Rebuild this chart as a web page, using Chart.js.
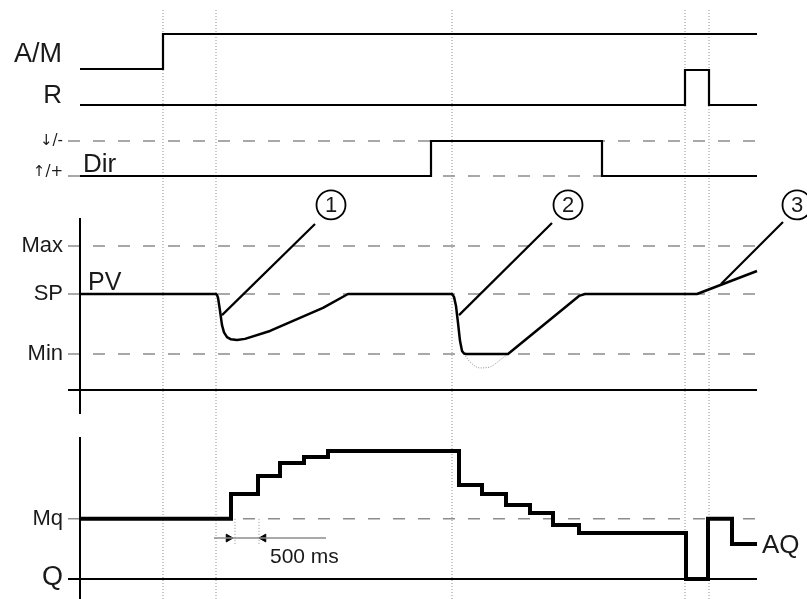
<!DOCTYPE html>
<html>
<head>
<meta charset="utf-8">
<script src="https://cdn.jsdelivr.net/npm/chart.js@4"></script>
<style>
  html,body{margin:0;padding:0;background:#fff;}
  #wrap{width:807px;height:599px;}
</style>
</head>
<body>
<div id="wrap"><canvas id="chart" width="807" height="599"></canvas></div>
<script>
// -------- DATA --------
// time runs in arbitrary units, 0 = start of the traces
const tStart = -12;      // where the reference lines begin (left of the axes)
const tEnd = 677;
const markT = [83, 136, 372, 605, 629];   // dotted event markers

// digital inputs : value v[i] from t[i] on
const amT = [0, 83, 677];
const amV = [0, 1, 1];
const rT = [0, 605, 629, 677];
const rV = [0, 1, 0, 0];
const dirT = [0, 351, 522, 677];
const dirV = [0, 1, 0, 0];
const dirNames = ["\u2191/+", "\u2193/-"];

// process value
const pvNames = ["Max", "SP", "Min"];
const pvLevels = [60, 40, 15];
const pvT = [0, 136, 137, 138, 140, 142, 144, 147, 151, 157, 165, 190, 243, 268,
             372, 374, 376, 378, 380, 382, 384, 386, 428, 499, 505, 617, 677];
const pvV = [40, 40, 39.6, 38.5, 33, 27, 24, 22, 21.1, 20.8, 21.3, 24.6, 34.2, 40,
             40, 38.8, 35, 28, 20.5, 16.3, 15.2, 15, 15, 39.2, 40, 40, 49.6];
// unlimited PV (dotted, below Min)
const pvFreeT = [384, 390, 400, 410, 420, 428];
const pvFreeV = [15, 11.7, 9.2, 9.6, 12.5, 15];

// callouts 1..3 : leader start / end, circle
const noteNames = ["1", "2", "3"];
const noteFromT = [142, 379, 641];
const noteFromV = [31.2, 31.2, 44.2];
const noteToT = [235, 472, 703];
const noteToV = [69.2, 69.6, 70];
const noteT = [251, 488, 717];
const noteV = [77.1, 77.1, 77.1];

// analog output : value v[i] from t[i] on
const mq = 47;
const aqT = [0, 151, 178, 200, 224, 248, 379, 402, 426, 450, 473, 499, 606, 628, 652, 677];
const aqV = [47, 66.4, 80.5, 90.6, 95.3, 100, 73.4, 66.4, 57.8, 51.6, 42.2, 35.9, 0, 47, 27.3, 27.3];

// 500 ms sample time marker
const cycleT = [155, 179];
const cycleLineT = [134, 246];
const cycleV = 32;

// -------- LAYOUT --------
const H = 599;
// linear y scale putting value lo at pixel yLo and hi at pixel yHi
function rowScale(lo, yLo, hi, yHi){
  const k = (yLo - yHi) / (hi - lo);
  const min = lo - (H - yLo) / k;
  return {type:"linear", display:false, min:min, max:min + H / k};
}

const pts = (ts, vs) => ts.map((t, i) => ({x:t, y:vs[i]}));

function trace(ts, vs, axis, extra){
  return Object.assign({
    data: pts(ts, vs), yAxisID: axis,
    borderColor: "#000", borderWidth: 2.2,
    pointRadius: 0, fill: false, clip: false, order: 1
  }, extra || {});
}
const dashed = {borderColor: "#8c8c8c", borderWidth: 1.5, borderDash: [12, 13], order: 5};
const dotted = {borderColor: "#8f8f8f", borderWidth: 1, borderDash: [1, 2], order: 6};

const datasets = [];

// event markers
markT.forEach(t => datasets.push(trace([t, t], [0, 1], "yFrame", dotted)));

// A/M, R
datasets.push(trace(amT, amV, "yAM", {stepped: "before"}));
datasets.push(trace(rT, rV, "yR", {stepped: "before"}));

// Dir
[0, 1].forEach(v => datasets.push(trace([tStart, tEnd], [v, v], "yDir", dashed)));
datasets.push(trace(dirT, dirV, "yDir", {stepped: "before"}));

// PV
pvLevels.forEach(v => datasets.push(trace([tStart, tEnd], [v, v], "yPV", dashed)));
datasets.push(trace([tStart, tEnd], [0, 0], "yPV", {borderWidth: 2}));
datasets.push(trace([0, 0], [71.7, -10], "yPV", {borderWidth: 2}));
datasets.push(trace(pvT, pvV, "yPV", {borderWidth: 2.5, borderJoinStyle: "round"}));
datasets.push(trace(pvFreeT, pvFreeV, "yPV", {borderColor: "#8c8c8c", borderWidth: 1, borderDash: [1, 1.5], cubicInterpolationMode: "monotone"}));

// callouts
noteT.forEach((t, i) => {
  datasets.push(trace([noteFromT[i], noteToT[i]], [noteFromV[i], noteToV[i]], "yPV", {borderWidth: 2.2}));
});
datasets.push(trace(noteT, noteV, "yPV", {
  showLine: false, pointRadius: 14.5, pointBorderWidth: 1.8,
  pointBorderColor: "#000", pointBackgroundColor: "#fff", order: 0
}));

// AQ
datasets.push(trace([tStart, tEnd], [mq, mq], "yAQ", dashed));
datasets.push(trace([tStart, tEnd], [0, 0], "yAQ", {borderWidth: 2}));
datasets.push(trace([0, 0], [111, -20], "yAQ", {borderWidth: 2}));
datasets.push(trace(aqT, aqV, "yAQ", {stepped: "before", borderWidth: 4}));

// 500 ms
cycleT.forEach(t => datasets.push(trace([t, t], [mq, 26.6], "yAQ", dotted)));
datasets.push(trace(cycleLineT, [cycleV, cycleV], "yAQ", {borderColor: "#8c8c8c", borderWidth: 1.5}));
datasets.push(trace([148.5, 183.5], [cycleV, cycleV], "yAQ", {
  showLine: false, pointStyle: "triangle", pointRadius: 4.5,
  pointRotation: [90, -90], pointBackgroundColor: "#000", pointBorderColor: "#000", pointBorderWidth: 1
}));

// -------- TEXT --------
const FONT = "'Liberation Sans', Arial, sans-serif";
const textPlugin = {
  id: "texts",
  afterDatasetsDraw(c){
    const ctx = c.ctx, s = c.scales;
    const put = (txt, x, y, size, align, base, family) => {
      ctx.font = size + "px " + (family || FONT);
      ctx.textAlign = align || "right";
      ctx.textBaseline = base || "middle";
      ctx.fillText(txt, x, y);
    };
    ctx.save();
    ctx.fillStyle = "#1a1a1a";
    const left = s.x.getPixelForValue(-18);
    put("A/M", left, s.yAM.getPixelForValue(0.4), 27);
    put("R", left, s.yR.getPixelForValue(0.25), 26);
    put(dirNames[1], left + 1, s.yDir.getPixelForValue(1), 15, "right", "middle", "'DejaVu Sans', sans-serif");
    put(dirNames[0], left + 1, s.yDir.getPixelForValue(0.11), 15, "right", "middle", "'DejaVu Sans', sans-serif");
    put("Dir", s.x.getPixelForValue(3), s.yDir.getPixelForValue(0.12), 26, "left", "alphabetic");
    pvNames.forEach((n, i) => put(n, left + 1, s.yPV.getPixelForValue(pvLevels[i]), 22));
    put("PV", s.x.getPixelForValue(8), s.yPV.getPixelForValue(41.5), 25, "left", "alphabetic");
    put("Mq", left + 1, s.yAQ.getPixelForValue(mq), 22);
    put("Q", left + 1, s.yAQ.getPixelForValue(1.2), 27);
    put("AQ", s.x.getPixelForValue(682), s.yAQ.getPixelForValue(26.2), 26, "left");
    put("500 ms", s.x.getPixelForValue(190), s.yAQ.getPixelForValue(12.6), 21, "left", "alphabetic");
    noteNames.forEach((n, i) => put(n, s.x.getPixelForValue(noteT[i]), s.yPV.getPixelForValue(noteV[i]) + 1, 22, "center"));
    ctx.restore();
  }
};

new Chart(document.getElementById("chart"), {
  type: "line",
  data: {datasets},
  options: {
    responsive: false,
    animation: false,
    events: [],
    layout: {padding: 0, autoPadding: false},
    plugins: {legend: {display: false}, tooltip: {enabled: false}},
    scales: {
      x: {type: "linear", display: false, min: -80, max: 727},
      yFrame: rowScale(0, 599, 1, 10),
      yAM: rowScale(0, 69, 1, 34),
      yR: rowScale(0, 105, 1, 70),
      yDir: rowScale(0, 176, 1, 141),
      yPV: rowScale(0, 390, 60, 246),
      yAQ: rowScale(0, 579, 100, 451)
    }
  },
  plugins: [textPlugin]
});
</script>
</body>
</html>
